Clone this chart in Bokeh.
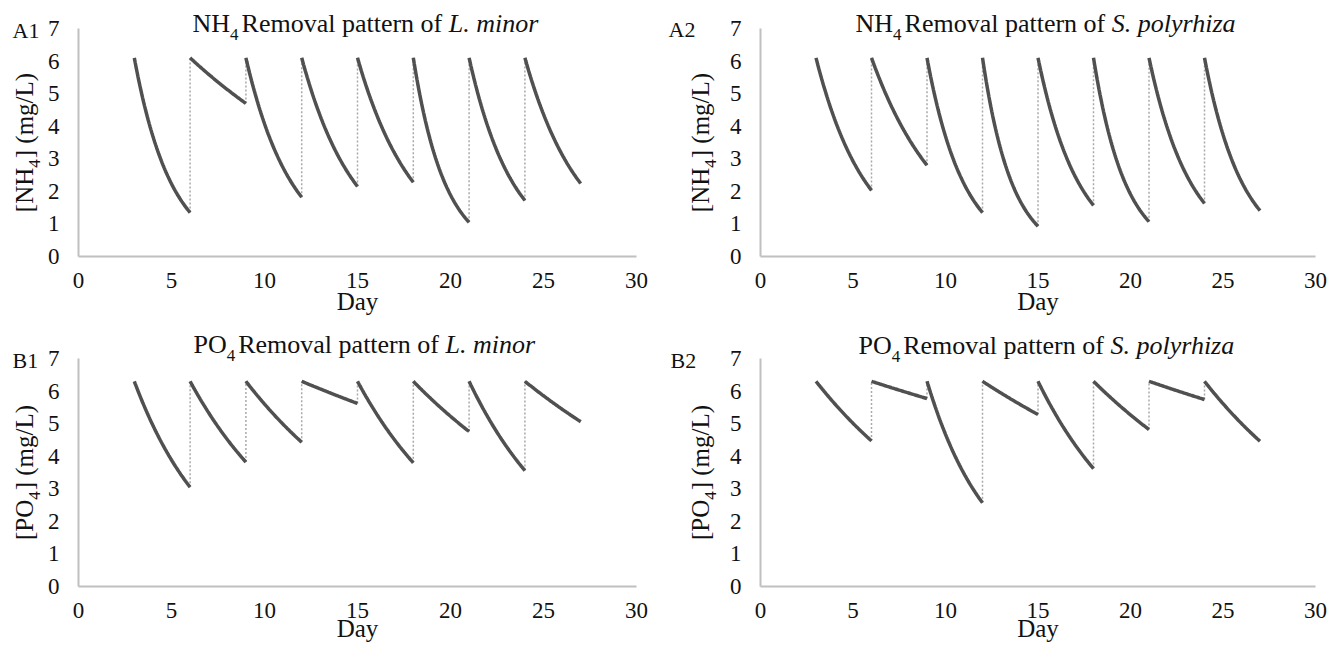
import math
from bokeh.plotting import figure
from bokeh.models import Label, Range1d, FixedTicker
from bokeh.layouts import row, column
from bokeh.embed import file_html
from bokeh.resources import INLINE

# ---------------- data ----------------
cycle_start_days = [3, 6, 9, 12, 15, 18, 21, 24]
cycle_length_days = 3
nh4_dose = 6.1
po4_dose = 6.3
nh4_end_l_minor = [1.35, 4.7, 1.82, 2.15, 2.28, 1.05, 1.72, 2.24]
nh4_end_s_polyrhiza = [2.03, 2.8, 1.35, 0.93, 1.57, 1.07, 1.63, 1.41]
po4_end_l_minor = [3.05, 3.82, 4.43, 5.62, 3.8, 4.76, 3.56, 5.06]
po4_end_s_polyrhiza = [4.47, 5.77, 2.57, 5.28, 3.62, 4.82, 5.74, 4.46]
x_ticks = [0, 5, 10, 15, 20, 25, 30]
y_ticks = [0, 1, 2, 3, 4, 5, 6, 7]
x_label = "Day"
panel_tags = ["A1", "A2", "B1", "B2"]

FONT = "Liberation Serif"
CURVE_COLOR = "#505050"
DOT_COLOR = "#a8a8a8"
AXIS_COLOR = "#c0c0c0"
TEXT_COLOR = "#111111"

REG = {' ': 250, '[': 333, ']': 333, '(': 333, ')': 333, '/': 278, '.': 250,
       'A': 722, 'B': 667, 'D': 722, 'H': 722, 'L': 611, 'N': 722, 'O': 722,
       'P': 556, 'R': 667, 'S': 556, 'a': 444, 'e': 444, 'f': 333, 'g': 500,
       'h': 500, 'i': 278, 'l': 278, 'm': 778, 'n': 500, 'o': 500, 'p': 500,
       'r': 333, 't': 278, 'v': 500, 'y': 500, 'z': 444}
ITA = {' ': 250, '.': 250, 'L': 556, 'S': 500, 'a': 500, 'h': 500, 'i': 278,
       'l': 278, 'm': 722, 'n': 500, 'o': 500, 'p': 500, 'r': 389, 'y': 444,
       'z': 389}


def tw(s, size, italic=False):
    t = ITA if italic else REG
    return sum(t.get(c, 500) for c in s) / 1000.0 * size


BASE_FIX = 0.36  # empirical shift of the rendered alphabetic baseline (x font size)


def make_panel(rect, chart, dose, ends, ion, species, tag, tag_pos, title_pos, ylab_x, day_base):
    fx, fy, fw, fh = rect            # figure rectangle on the page (px)
    x0p, x30p, y0p, y7p = chart      # where day 0 / day 30 and 0 / 7 mg/L fall (px)
    kx = (x30p - x0p) / 30.0
    ky = (y0p - y7p) / 7.0
    xr = Range1d((fx - x0p) / kx, (fx + fw - x0p) / kx)
    yr = Range1d((y0p - (fy + fh)) / ky, (y0p - fy) / ky)
    p = figure(width=fw, height=fh, min_border_left=0, min_border_right=0,
               min_border_top=0, min_border_bottom=0,
               x_range=xr, y_range=yr,
               output_backend="svg", toolbar_location=None, title=None)
    p.outline_line_color = None
    p.background_fill_color = "white"
    p.border_fill_color = "white"
    p.xgrid.grid_line_color = None
    p.ygrid.grid_line_color = None
    for ax, ticks, so, bnd in ((p.xaxis, x_ticks, 10, (0, 30)), (p.yaxis, y_ticks, 13, (0, 7))):
        ax.ticker = FixedTicker(ticks=ticks)
        ax.fixed_location = 0
        ax.bounds = bnd
        ax.major_tick_line_color = None
        ax.minor_tick_line_color = None
        ax.axis_line_color = AXIS_COLOR
        ax.axis_line_width = 2
        ax.major_label_text_font = FONT
        ax.major_label_text_font_size = "23px"
        ax.major_label_text_color = TEXT_COLOR
        ax.major_label_standoff = so

    # curves: first-order decay between the dose and the read end value of each cycle
    xs, ys = [], []
    n = 60
    for t0, ce in zip(cycle_start_days, ends):
        tx = [t0 + cycle_length_days * i / n for i in range(n + 1)]
        ty = [dose * (ce / dose) ** (i / n) for i in range(n + 1)]
        xs.append(tx)
        ys.append(ty)
    p.segment(x0=cycle_start_days[1:], y0=ends[:-1], x1=cycle_start_days[1:],
              y1=[dose] * (len(cycle_start_days) - 1),
              line_color=DOT_COLOR, line_width=1.5, line_dash="2 2")
    p.multi_line(xs, ys, line_color=CURVE_COLOR, line_width=3.5)

    def dx(px):
        return (px - x0p) / kx

    def dy(py):
        return (y0p - py) / ky

    def lab(px, py, text, size, italic=False, align="left", angle=0.0):
        fix = BASE_FIX * size
        if angle:
            px -= fix
        else:
            py -= fix
        p.add_layout(Label(x=dx(px), y=dy(py), text=text, text_font=FONT,
                           text_font_size=f"{size}px",
                           text_font_style="italic" if italic else "normal",
                           text_color=TEXT_COLOR, text_align=align,
                           text_baseline="alphabetic", angle=angle))

    # title
    TS, SS = 26, 17
    tx0, tb = title_pos
    lab(tx0, tb, ion, TS)
    x = tx0 + tw(ion, TS)
    lab(x, tb + 8.5, "4", SS)
    x += tw("4", SS) + 3
    mid = "Removal pattern of "
    lab(x, tb, mid.strip(), TS)
    x += tw(mid, TS)
    lab(x, tb, species, TS, italic=True)

    # y label (rotated)
    YS = 25
    total = tw("[" + ion, YS) + tw("4", SS) + 1 + tw("] (mg/L)", YS)
    yc = (y0p + y7p) / 2.0
    y = yc + total / 2.0
    lab(ylab_x, y, "[" + ion, YS, angle=math.pi / 2)
    y -= tw("[" + ion, YS)
    lab(ylab_x + 7, y, "4", SS, angle=math.pi / 2)
    y -= tw("4", SS) + 1
    lab(ylab_x, y, "] (mg/L)", YS, angle=math.pi / 2)

    # x label
    lab((x0p + x30p) / 2.0, day_base, x_label, 25, align="center")

    # panel tag
    lab(tag_pos[0], tag_pos[1], tag, 22)
    return p


a1 = make_panel((0, 0, 660, 323), (78, 636, 256, 28), nh4_dose, nh4_end_l_minor,
                "NH", "L. minor", panel_tags[0], (12, 38), (192, 32), 33, 310)
a2 = make_panel((660, 0, 681, 323), (760, 1315, 256, 28), nh4_dose, nh4_end_s_polyrhiza,
                "NH", "S. polyrhiza", panel_tags[1], (668, 37), (855, 32), 709, 310)
b1 = make_panel((0, 323, 660, 324), (78, 636, 586, 358), po4_dose, po4_end_l_minor,
                "PO", "L. minor", panel_tags[2], (12, 368), (193, 353), 33, 637)
b2 = make_panel((660, 323, 681, 324), (760, 1315, 586, 358), po4_dose, po4_end_s_polyrhiza,
                "PO", "S. polyrhiza", panel_tags[3], (670, 368), (858, 354), 709, 637)

layout = column(row(a1, a2), row(b1, b2))
open("out.html", "w").write(file_html(layout, INLINE))
